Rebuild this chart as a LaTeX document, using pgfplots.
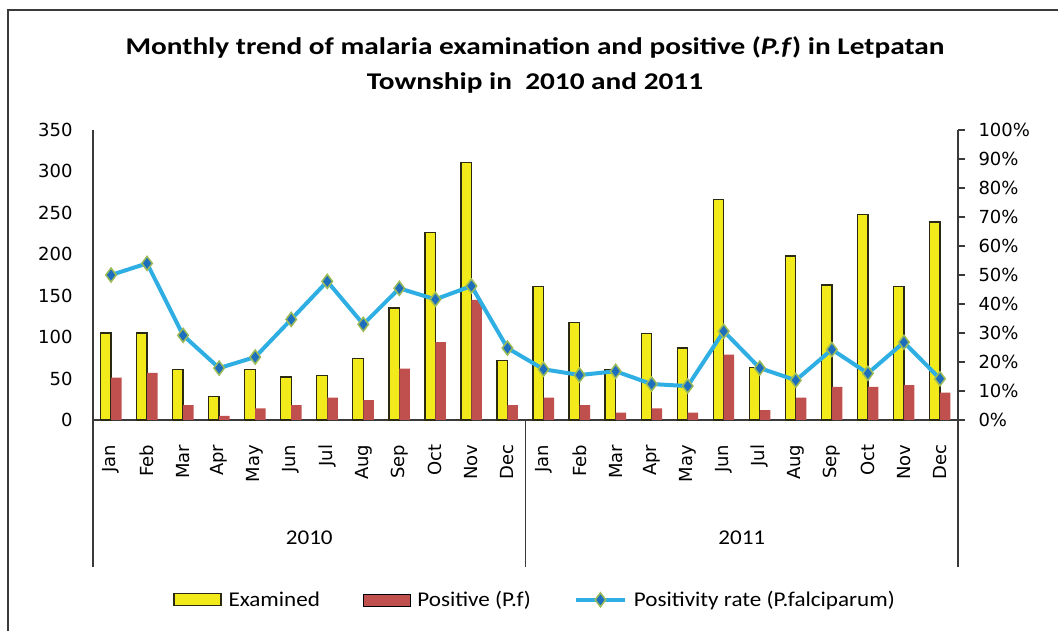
\documentclass[border=0pt]{standalone}
\usepackage{pgfplots}
\usepackage{pgfplotstable}
\pgfplotsset{compat=1.18}
\usepackage{fontspec}
\setmainfont{Carlito}
\newfontfamily\dejavu{DejaVu Sans}
\definecolor{exyel}{HTML}{F2EA1A}
\definecolor{exedge}{HTML}{2A2A14}
\definecolor{posred}{HTML}{C0504D}
\definecolor{rateblue}{HTML}{2EAEE3}
\definecolor{mkblue}{HTML}{1E6EBE}
\definecolor{mkedge}{HTML}{9BBB59}
\definecolor{axgray}{HTML}{3A3A3A}

\newcommand{\wide}[2][1.1]{\scalebox{#1}[1]{#2}}

\pgfplotsset{
  boxlegend/.style={legend image code/.code={\draw[##1] (0pt,-6pt) rectangle (47pt,6pt);}},
  linelegend/.style={legend image code/.code={\draw[##1, mark=none] (0pt,0pt) -- (49pt,0pt); \draw[##1] plot coordinates {(24.5pt,0pt)};}},
}

\pgfplotstableread{
x ex pos rate
0 105 51 50.0
1 105 57 54.0
2 61 18 29.2
3 28 5 17.9
4 61 14 21.7
5 52 18 34.7
6 54 27 47.8
7 74 24 33.0
8 135 62 45.4
9 226 94 41.6
10 311 145 46.2
11 72 18 24.8
12 161 27 17.5
13 118 18 15.5
14 61 9 16.8
15 104 14 12.4
16 87 9 11.7
17 266 79 30.6
18 63 12 17.9
19 198 27 13.7
20 163 40 24.3
21 248 40 16.1
22 161 42 26.8
23 239 33 14.2
}\data

\begin{document}
\begin{tikzpicture}
\useasboundingbox (0pt,0pt) rectangle (1058pt,631pt);
\draw[axgray, line width=1.2pt] (8pt,-2pt) -- (8pt,621pt) -- (1060pt,621pt);
\node[anchor=base, font=\bfseries\fontsize{24}{24}\selectfont] at (535pt,576.5pt) {\wide[1.22]{Monthly trend of malaria examination and positive (\textit{P.f}) in Letpatan}};
\node[anchor=base, font=\bfseries\fontsize{24}{24}\selectfont] at (535pt,541.5pt) {\wide[1.22]{Township in\ \ 2010 and 2011}};

\begin{axis}[
  at={(93pt,211pt)}, anchor=south west, scale only axis,
  width=865pt, height=290pt,
  xmin=-0.5, xmax=23.5, ymin=0, ymax=350,
  enlargelimits=false, clip=false,
  axis x line*=bottom, axis y line*=left,
  x axis line style={-}, y axis line style={-},
  axis line style={axgray, line width=1.3pt},
  ybar=0pt, bar width=10.5pt,
  xtick={0,...,23},
  xticklabels={Jan,Feb,Mar,Apr,May,Jun,Jul,Aug,Sep,Oct,Nov,Dec,Jan,Feb,Mar,Apr,May,Jun,Jul,Aug,Sep,Oct,Nov,Dec},
  xticklabel style={font=\dejavu\fontsize{18}{18}\selectfont, rotate=90, anchor=east, xshift=-17pt},
  ytick={0,50,...,350},
  yticklabel style={font=\dejavu\fontsize{18}{18}\selectfont, xshift=-17pt},
  /pgf/number format/assume math mode=true,
  major tick style={draw=none},
]
\addplot[fill=exyel, draw=exedge, line width=1.3pt] table[x=x,y=ex]{\data};
\addplot[fill=posred, draw=none] table[x=x,y=pos]{\data};
\draw[axgray, line width=1.3pt] (axis cs:-0.5,0) -- ++(0pt,-147pt);
\draw[axgray, line width=1.3pt] (axis cs:11.5,0) -- ++(0pt,-147pt);
\draw[axgray, line width=1.3pt] (axis cs:23.5,0) -- ++(0pt,-147pt);
\node[anchor=base, font=\fontsize{21}{21}\selectfont] at ([yshift=-125pt]axis cs:5.5,0) {\wide{2010}};
\node[anchor=base, font=\fontsize{21}{21}\selectfont] at ([yshift=-125pt]axis cs:17.5,0) {\wide{2011}};
\end{axis}

\begin{axis}[
  at={(93pt,211pt)}, anchor=south west, scale only axis,
  width=865pt, height=290pt,
  xmin=-0.5, xmax=23.5, ymin=0, ymax=100,
  enlargelimits=false, clip=false,
  axis x line=none, axis y line*=right,
  y axis line style={-},
  axis line style={axgray, line width=1.3pt},
  ytick={0,10,...,100},
  yticklabel={\pgfmathprintnumber{\tick}\%},
  yticklabel style={font=\dejavu\fontsize{18}{18}\selectfont, xshift=10pt},
  /pgf/number format/assume math mode=true,
  tick align=outside, major tick length=7pt,
  major tick style={axgray, line width=1.3pt},
  legend columns=3,
  legend style={draw=none, fill=none, at={(0.511,-0.62)}, anchor=center,
    font=\fontsize{21}{21}\selectfont,
    /tikz/every odd column/.append style={column sep=5pt},
    /tikz/every even column/.append style={column sep=41pt}},
  legend cell align=left,
]
\addlegendimage{fill=exyel, draw=exedge, line width=1.3pt, boxlegend}
\addlegendentry{\wide{Examined}}
\addlegendimage{fill=posred, draw=none, boxlegend}
\addlegendentry{\wide{Positive (P.f)}}
\addplot[rateblue, line width=4pt, mark=diamond*, mark size=7pt,
  mark options={fill=mkblue, draw=mkedge, line width=1.5pt}, linelegend
  ] table[x=x,y=rate]{\data};
\addlegendentry{\wide{Positivity rate (P.falciparum)}}
\draw[axgray, line width=1.3pt] ([xshift=-7pt]axis cs:23.5,0) -- ++(7pt,0pt);
\end{axis}
\end{tikzpicture}
\end{document}
